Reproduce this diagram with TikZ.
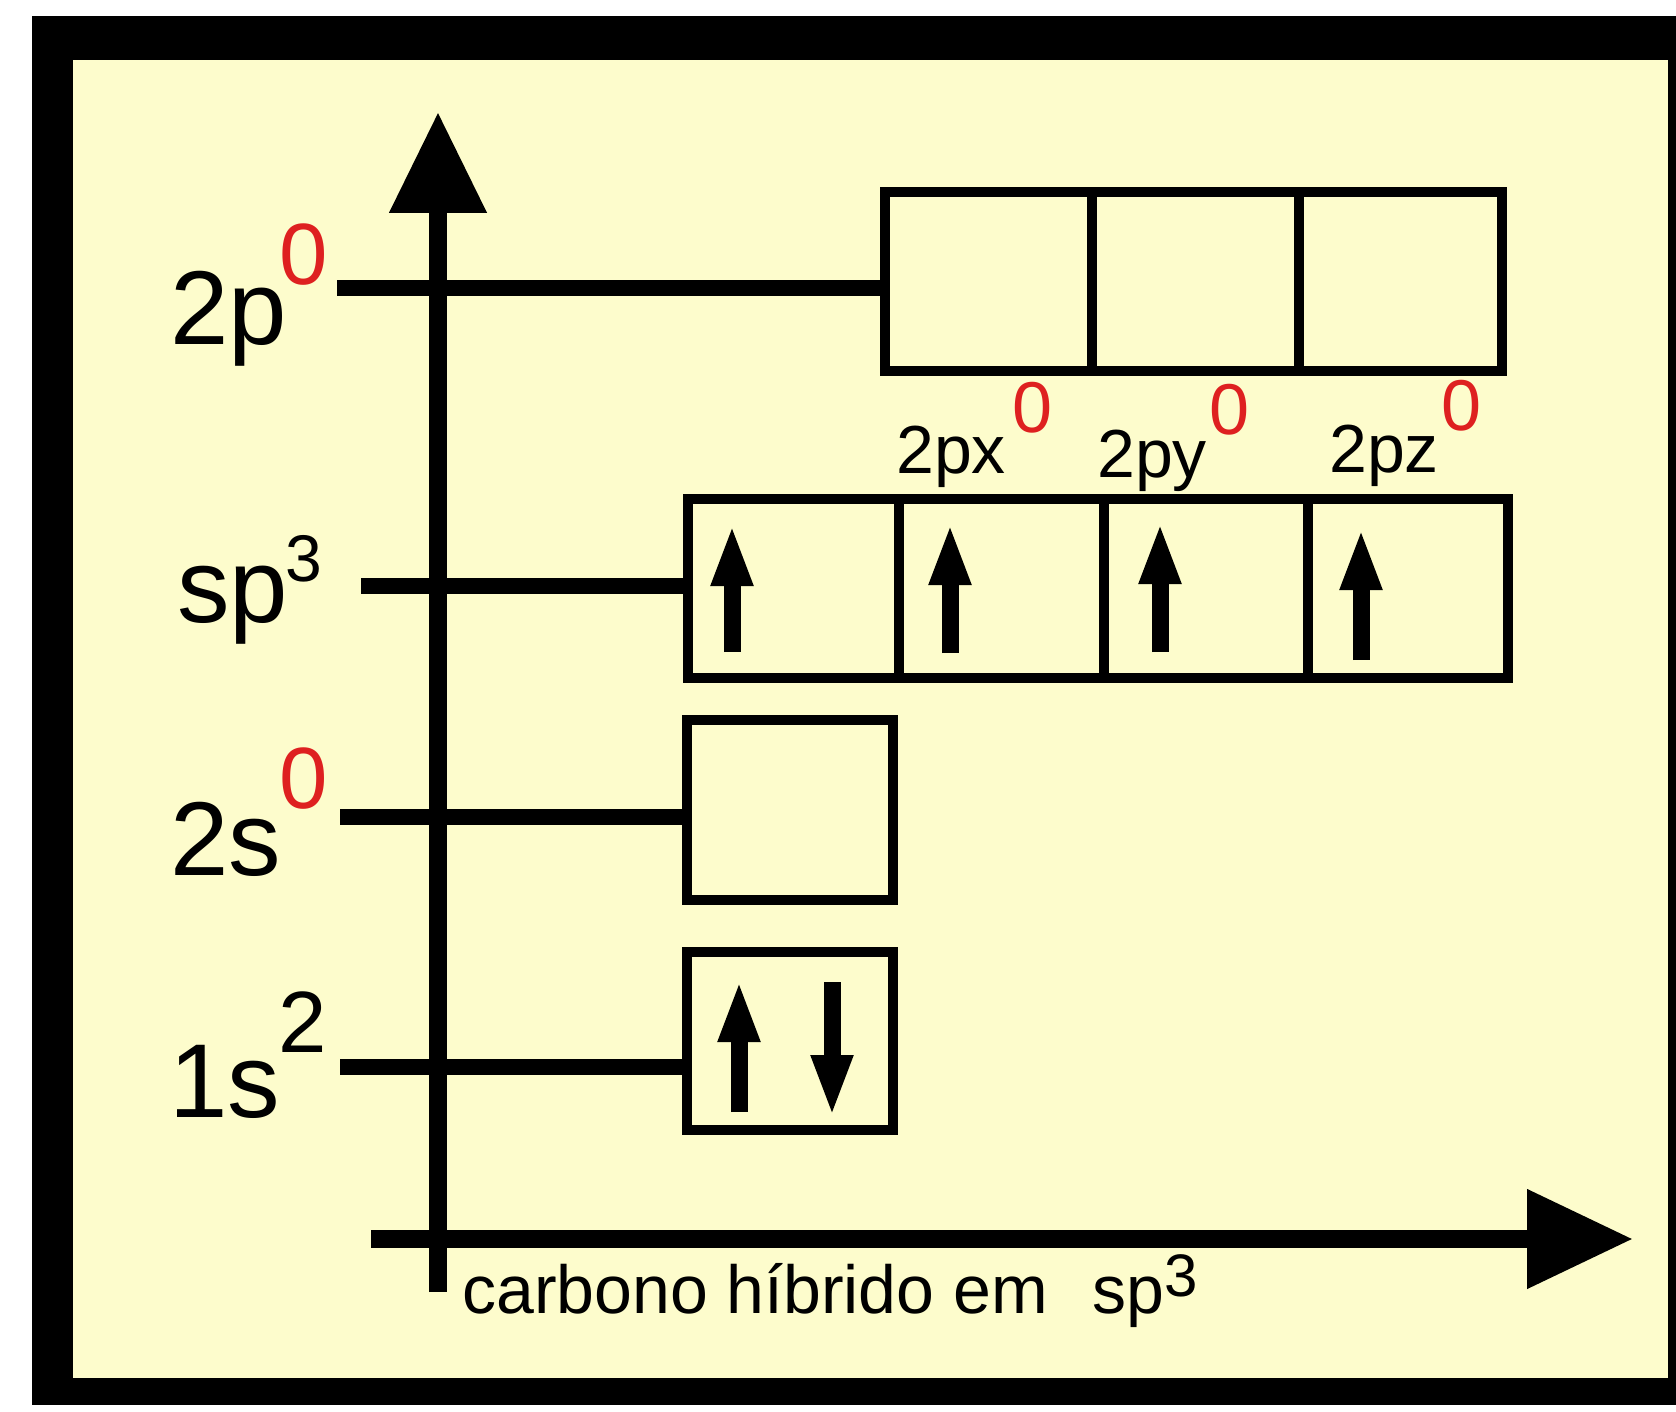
\documentclass[tikz,border=0pt]{standalone}
\usepackage{fontspec}
\setmainfont{Liberation Sans}
\usetikzlibrary{arrows.meta}
\definecolor{cream}{RGB}{253,252,204}
\definecolor{supred}{RGB}{222,32,32}
\newcommand{\myfs}[1]{\fontsize{#1}{#1}\selectfont}
\begin{document}
\begin{tikzpicture}[x=1pt,y=-1pt,
  lbl/.style={inner sep=0pt, anchor=base west, font={\myfs{105}}},
  suplbl/.style={inner sep=0pt, anchor=base west, text=supred, font={\myfs{87}}},
  blksup/.style={inner sep=0pt, anchor=base west, font={\myfs{87}}},
  orblbl/.style={inner sep=0pt, anchor=base west, font={\myfs{68}}},
  orbsup/.style={inner sep=0pt, anchor=base west, text=supred, font={\myfs{72}}},
  obox/.style={draw, line width=10pt, inner sep=0pt, minimum height=179pt},
  level/.style={line width=16pt},
  axisline/.style={line width=18pt},
  spin/.style={line width=17pt, -{Triangle[length=62pt,width=38pt]}}
]
\useasboundingbox (0,0) rectangle (1676,1412);
% frame
\fill[white] (0,0) rectangle (1676,1412);
\fill[black] (32,16) rectangle (1676,1405);
\fill[cream] (73,60) rectangle (1668,1378);

% 2p boxes
\node[obox, minimum width=207pt] (p1) at (988.5,281.5) {};
\node[obox, minimum width=207pt] (p2) at (1195.5,281.5) {};
\node[obox, minimum width=203pt] (p3) at (1400.5,281.5) {};
% sp3 boxes
\node[obox, minimum width=211pt] (s1) at (793.5,588.5) {};
\node[obox, minimum width=205pt] (s2) at (1001.5,588.5) {};
\node[obox, minimum width=204pt] (s3) at (1206,588.5) {};
\node[obox, minimum width=200pt] (s4) at (1408,588.5) {};
% 2s box
\node[obox, minimum width=206pt, minimum height=180pt] (b2s) at (790,810) {};
% 1s box
\node[obox, minimum width=206pt, minimum height=178pt] (b1s) at (790,1041) {};

% level lines
\coordinate (l2p) at (337,288);
\coordinate (lsp) at (361,586);
\coordinate (l2s) at (340,817);
\coordinate (l1s) at (340,1067);
\draw[level] (l2p) -- (l2p -| p1.west);
\draw[level] (lsp) -- (lsp -| s1.west);
\draw[level] (l2s) -- (l2s -| b2s.west);
\draw[level] (l1s) -- (l1s -| b1s.west);

% axes
\coordinate (yb) at (438,1292);
\coordinate (yt) at (438,112);
\coordinate (xl) at (371,1239);
\coordinate (xr) at (1633,1239);
\draw[axisline, -{Triangle[length=101pt,width=93pt]}] (yb) -- (yt);
\draw[axisline, -{Triangle[length=106pt,width=95pt]}] (xl) -- (xr);

% spins
\draw[spin] (732,652) -- (732,524);
\draw[spin] (950,653) -- (950,523);
\draw[spin] (1160,652) -- (1160,522);
\draw[spin] (1361,660) -- (1361,528);
\draw[spin] (739,1112) -- (739,980);
\draw[spin] (832,982) -- (832,1117);

% level labels
\node[lbl] (t2p) at (170,345) {2p};
\node[suplbl] (t2p0) at (279,285) {0};
\node[lbl] (tsp) at (177,622) {sp};
\node[blksup, font={\myfs{66}}] (tsp3) at (285,581) {3};
\node[lbl] (t2s) at (170,875) {2s};
\node[suplbl] (t2s0) at (279,808) {0};
\node[lbl] (t1s) at (169,1117) {1s};
\node[blksup] (t1s2) at (278,1052) {2};

% orbital labels
\node[orblbl] (tpx) at (896,473) {2px};
\node[orbsup] (tpx0) at (1012,432) {0};
\node[orblbl] (tpy) at (1097,477) {2py};
\node[orbsup] (tpy0) at (1209,435) {0};
\node[orblbl] (tpz) at (1329,472) {2pz};
\node[orbsup] (tpz0) at (1441,430) {0};

% caption
\node[inner sep=0pt, anchor=base west, font={\myfs{68}}] (cap) at (462,1313)
  {carbono híbrido em\hspace{45pt}sp\raisebox{17pt}{\myfs{60}3}};
\end{tikzpicture}
\end{document}
